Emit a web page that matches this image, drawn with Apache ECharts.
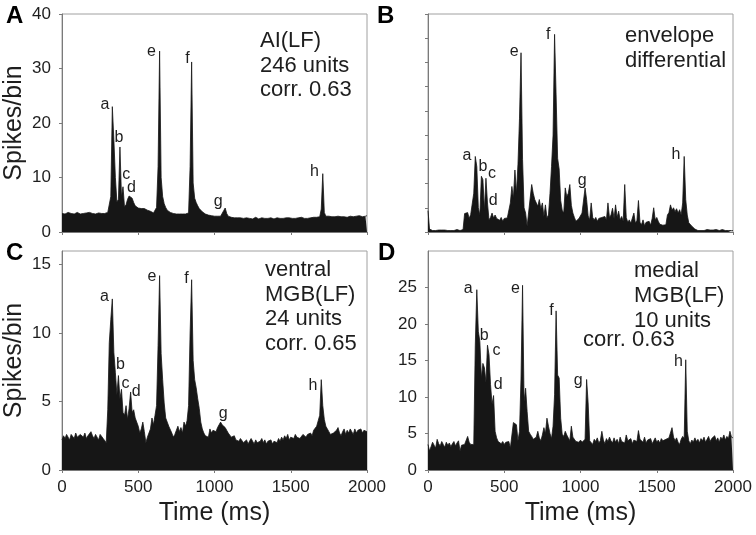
<!DOCTYPE html>
<html><head><meta charset="utf-8">
<script src="https://cdn.jsdelivr.net/npm/echarts@6/dist/echarts.min.js"></script>
<style>html,body{margin:0;padding:0;background:#fff}#c{width:756px;height:535px}</style>
</head><body><div id="c"></div><script>
// ---- data (10 ms bins, 0..2000 ms) ----
const binMs = 10;
const xTicks = [0, 500, 1000, 1500, 2000];
const yTicksA = [0, 10, 20, 30, 40];
const yTicksB = [0, 5, 10, 15, 20, 25, 30, 35, 40, 45];
const yTicksC = [0, 5, 10, 15];
const yTicksD = [0, 5, 10, 15, 20, 25];
const peakNames = ['a','b','c','d','e','f','g','h'];

const valuesA = [
 3.4,3.5,3.3,3.4,3.6,3.3,3.4,3.5,3.3,3.4,3.6,3.4,3.3,3.5,3.4,3.3,3.5,3.4,3.6,3.3,
 3.4,3.5,3.3,3.4,3.5,3.3,3.4,3.6,3.4,3.5,3.6,3.5,6.5,23.0,17.0,10.0,5.5,6.0,15.6,6.5,
 8.3,4.6,5.0,6.0,6.6,6.8,6.2,5.4,4.8,4.6,4.4,4.4,4.3,4.5,4.3,4.1,4.0,3.9,3.8,3.6,
 3.5,3.6,4.5,12.0,33.2,10.0,6.5,5.2,4.5,4.0,3.7,3.6,3.5,3.4,3.5,3.3,3.4,3.3,3.5,3.3,
 3.4,3.3,3.4,3.5,12.0,31.2,9.0,6.2,5.4,4.8,4.3,4.0,3.7,3.5,3.3,3.2,3.1,3.0,3.0,2.9,
 2.9,2.8,2.9,2.8,2.9,3.2,3.9,4.4,3.4,2.9,2.8,2.7,2.8,2.6,2.7,2.6,2.5,2.6,2.7,2.5,
 2.5,2.6,2.4,2.5,2.6,2.4,2.5,2.7,2.5,2.4,2.5,2.6,2.4,2.5,2.6,2.5,2.4,2.6,2.5,2.4,
 2.5,2.6,2.4,2.5,2.7,2.5,2.4,2.6,2.5,2.6,2.4,2.5,2.6,2.5,2.4,2.6,2.5,2.7,2.6,2.5,
 2.6,2.5,2.7,2.6,2.5,2.7,2.6,2.7,2.6,2.8,4.2,10.7,3.6,2.9,2.8,2.9,3.0,2.8,2.9,2.8,
 2.8,2.9,2.7,2.8,3.0,2.8,2.9,2.7,2.8,2.9,3.0,2.8,2.7,2.9,2.8,3.0,2.9,2.8,3.0,2.9,
 3.0];
const valuesB = [
 4.4,0.6,0.4,0.3,0.4,0.3,0.5,0.4,0.3,0.4,0.3,0.4,0.5,0.3,0.4,0.3,0.4,0.3,0.4,0.5,
 0.4,0.3,0.4,0.5,3.8,3.5,4.0,2.8,3.6,3.2,8.0,15.6,13.5,5.0,3.5,11.5,10.8,4.5,11.1,6.0,
 2.5,3.0,3.9,2.9,3.5,2.8,3.2,2.4,3.0,2.2,2.8,2.4,2.9,2.5,6.0,9.4,7.0,12.8,8.0,14.0,
 23.5,37.0,15.0,5.0,3.9,1.2,1.5,7.0,9.8,8.0,6.7,6.5,5.3,6.7,4.8,6.0,3.2,5.6,2.9,3.5,
 8.0,13.5,20.0,40.8,28.3,15.2,13.0,6.5,4.5,3.9,9.1,7.3,8.0,9.8,5.5,3.9,3.0,2.2,2.5,2.8,
 2.8,3.9,3.5,9.1,6.7,3.3,2.5,6.0,3.0,2.5,3.0,2.2,2.8,2.4,3.0,2.6,3.2,2.5,6.0,3.0,
 3.5,4.9,2.8,5.6,3.0,4.3,2.5,3.2,2.2,9.8,3.0,2.0,2.5,1.8,2.2,3.9,1.8,2.4,6.5,2.0,
 1.5,2.5,1.3,2.0,1.6,2.2,1.4,2.8,5.0,2.5,3.0,2.2,1.6,1.2,1.4,1.1,1.5,3.5,4.0,5.6,
 4.5,5.0,4.2,4.8,3.9,4.6,3.5,6.0,15.6,6.7,3.5,1.9,1.5,1.2,0.8,0.6,0.4,0.3,0.4,0.3,
 0.4,0.3,0.4,0.5,0.3,0.4,0.5,0.4,0.3,0.5,0.4,0.3,0.4,0.5,0.4,0.3,0.4,0.3,0.4,0.3,
 0.3];
const valuesC = [
 2.2,2.5,2.3,2.6,2.4,2.2,2.6,2.5,2.3,2.7,2.4,2.3,2.6,2.5,2.4,2.7,2.3,2.5,2.4,2.8,
 2.5,2.3,2.6,2.4,2.2,2.6,2.5,2.3,2.4,2.0,4.4,9.3,11.0,12.5,8.6,7.1,5.5,6.9,5.2,5.9,
 4.2,4.0,4.7,3.7,4.5,5.7,4.2,4.4,3.8,3.7,3.2,2.7,3.0,3.5,2.8,2.0,2.4,2.7,3.0,3.8,
 3.3,4.0,4.7,9.1,14.2,8.5,6.6,4.9,3.8,3.5,3.2,3.1,2.7,2.4,2.6,2.9,3.2,2.8,3.1,2.7,
 3.5,3.2,3.6,4.7,10.0,13.9,8.0,6.6,6.0,5.2,4.5,3.5,3.0,2.7,2.5,2.6,2.4,3.0,2.7,2.9,
 3.0,2.8,3.1,3.3,3.5,3.3,3.4,3.1,2.9,2.7,2.6,2.4,2.3,2.5,2.2,2.3,2.1,2.3,2.2,2.0,
 2.1,2.2,1.9,2.0,2.3,2.1,1.9,2.2,2.0,1.9,2.1,2.3,2.0,2.2,1.9,2.1,2.0,2.2,1.9,2.1,
 2.2,2.0,2.3,2.1,2.4,2.2,2.5,2.3,2.6,2.2,2.4,2.5,2.3,2.6,2.4,2.5,2.3,2.4,2.6,2.5,
 2.4,2.6,2.5,2.7,2.5,2.9,3.0,3.2,3.6,4.0,6.6,4.7,3.7,3.2,3.0,2.8,2.6,2.5,2.7,2.6,
 2.9,3.1,2.7,2.5,2.8,3.0,2.6,2.9,2.7,3.0,2.8,2.6,3.0,2.7,2.9,2.8,3.0,2.7,2.9,3.0,
 2.8];
const valuesD = [
 3.5,2.6,3.2,3.8,3.4,3.0,4.2,3.6,3.3,3.9,3.5,3.1,3.8,3.4,3.7,3.2,3.6,3.9,3.3,3.7,
 4.0,2.6,3.4,3.2,3.5,3.3,4.6,3.8,3.5,3.3,3.5,17.0,24.7,19.0,17.6,12.6,14.6,14.0,12.0,17.1,
 15.8,11.7,9.0,10.2,5.3,4.4,3.9,3.7,3.6,3.9,3.5,3.8,3.6,3.9,3.0,3.2,6.5,6.4,6.2,4.0,
 5.3,12.6,25.3,9.4,11.2,8.0,5.3,4.9,4.6,4.2,4.0,4.5,5.3,4.4,4.0,4.8,5.8,5.0,7.1,6.0,
 5.0,4.3,6.0,10.3,21.8,13.0,12.6,7.1,4.9,4.6,5.3,4.8,4.4,4.0,6.0,4.5,4.2,3.9,4.0,3.8,
 4.1,3.8,4.0,4.2,12.4,9.2,4.0,3.8,3.5,4.2,3.9,4.4,3.7,4.0,5.3,4.1,3.6,4.3,3.9,4.5,
 4.0,3.7,4.4,3.8,4.2,3.6,4.5,3.9,4.1,3.7,4.8,4.0,3.8,4.3,3.6,4.1,4.0,3.9,5.4,4.2,
 4.0,3.8,4.5,3.7,4.1,3.9,4.3,3.6,4.0,4.4,3.8,4.1,3.7,4.3,4.0,3.9,4.2,4.0,4.4,4.2,
 5.8,4.5,4.0,4.4,3.8,3.5,4.2,4.6,4.3,15.1,5.3,4.0,3.6,4.1,3.8,4.4,3.9,4.2,3.7,4.3,
 4.0,4.5,3.8,4.2,4.6,3.9,4.3,4.1,4.7,4.0,4.4,3.8,4.5,4.2,4.8,4.1,4.6,4.3,5.3,4.5,
 4.4];

// peak-letter anchors [time ms, value]
const anchorsA = [[281,23.3],[373,17.4],[421,10.5],[455,8.1],[586,33.1],[822,31.9],[1024,5.6],[1656,11.1]];
const anchorsB = [[256,15.8],[361,13.5],[420,12.1],[427,6.4],[565,37.2],[788,40.8],[1011,10.7],[1626,15.9]];
const anchorsC = [[278,12.65],[384,7.7],[416,6.3],[487,5.7],[590,14.1],[816,14.0],[1057,4.1],[1645,6.2]];
const anchorsD = [[263,24.9],[368,18.4],[449,16.4],[460,11.7],[574,24.9],[810,21.9],[985,12.2],[1642,14.8]];

// ---- chart ----
const FONT = '"Liberation Sans", Arial, sans-serif';
const TXT = '#1e1e1e';
const panels = [
  {vals: valuesA, anchors: anchorsA, yMax: 40, yTicks: yTicksA, yLabels: true, xLabels: false, yName: 'Spikes/bin'},
  {vals: valuesB, anchors: anchorsB, yMax: 45, yTicks: yTicksB, yLabels: false, xLabels: false, yName: ''},
  {vals: valuesC, anchors: anchorsC, yMax: 16, yTicks: yTicksC, yLabels: true, xLabels: true, yName: 'Spikes/bin'},
  {vals: valuesD, anchors: anchorsD, yMax: 30, yTicks: yTicksD, yLabels: true, xLabels: true, yName: ''}
];
const gridBoxes = [
  {left: 62, top: 14, width: 305, height: 218},
  {left: 428, top: 14, width: 305, height: 218},
  {left: 62, top: 251, width: 305, height: 219},
  {left: 428, top: 251, width: 305, height: 219}
];
const axisCol = '#7a7a7a';
const plain = v => String(v);

const option = {
  animation: false,
  backgroundColor: '#fff',
  grid: gridBoxes.map(g => Object.assign({show: true, borderColor: '#a0a0a0', borderWidth: 1, backgroundColor: 'transparent'}, g)),
  xAxis: panels.map((p, i) => ({
    type: 'value', gridIndex: i, min: 0, max: 2000,
    axisLine: {show: true, onZero: false, lineStyle: {color: axisCol, width: 1}},
    axisTick: {show: true, length: 3, customValues: xTicks, lineStyle: {color: axisCol}},
    axisLabel: {show: p.xLabels, customValues: xTicks, formatter: plain, fontSize: 17, color: TXT, fontFamily: FONT, margin: 9},
    splitLine: {show: false},
    name: p.xLabels ? 'Time (ms)' : '', nameLocation: 'middle', nameGap: 31,
    nameTextStyle: {fontSize: 25, color: TXT, fontFamily: FONT}
  })),
  yAxis: panels.map((p, i) => ({
    type: 'value', gridIndex: i, min: 0, max: p.yMax,
    axisLine: {show: true, lineStyle: {color: axisCol, width: 1}},
    axisTick: {show: true, length: 3, customValues: p.yTicks, lineStyle: {color: axisCol}},
    axisLabel: {show: p.yLabels, customValues: p.yTicks, formatter: plain, fontSize: 17, color: TXT, fontFamily: FONT, margin: 11},
    splitLine: {show: false},
    name: p.yName, nameLocation: 'middle', nameGap: 35,
    nameTextStyle: {fontSize: 25, color: TXT, fontFamily: FONT}
  })),
  series: panels.map((p, i) => ({
    type: 'line', xAxisIndex: i, yAxisIndex: i, silent: true,
    data: p.vals.map((v, k) => [k * binMs, v]),
    symbol: 'none', showSymbol: false,
    lineStyle: {color: '#161616', width: 0.8},
    areaStyle: {color: '#161616', opacity: 1},
    markPoint: {
      silent: true, symbol: 'circle', symbolSize: 1,
      itemStyle: {color: 'rgba(0,0,0,0)'},
      label: {show: true, position: 'inside', formatter: '{b}', fontSize: 16, color: TXT, fontFamily: FONT},
      data: p.anchors.map((a, k) => ({name: peakNames[k], coord: a}))
    }
  })),
  graphic: [
    {type: 'text', left: 6, top: 4, style: {text: 'A', font: 'bold 24px ' + FONT, fill: '#000'}},
    {type: 'text', left: 377, top: 4, style: {text: 'B', font: 'bold 24px ' + FONT, fill: '#000'}},
    {type: 'text', left: 6, top: 241, style: {text: 'C', font: 'bold 24px ' + FONT, fill: '#000'}},
    {type: 'text', left: 378, top: 241, style: {text: 'D', font: 'bold 24px ' + FONT, fill: '#000'}},
    {type: 'text', left: 260, top: 29, style: {text: 'AI(LF)\n246 units\ncorr. 0.63', font: '22px ' + FONT, lineHeight: 24.5, fill: TXT}},
    {type: 'text', left: 625, top: 23, style: {text: 'envelope\ndifferential', font: '22px ' + FONT, lineHeight: 25.5, fill: TXT}},
    {type: 'text', left: 265, top: 258, style: {text: 'ventral\nMGB(LF)\n24 units\ncorr. 0.65', font: '22px ' + FONT, lineHeight: 24.5, fill: TXT}},
    {type: 'text', left: 634, top: 258, style: {text: 'medial\nMGB(LF)\n10 units', font: '22px ' + FONT, lineHeight: 25, fill: TXT}},
    {type: 'text', left: 583, top: 328, style: {text: 'corr. 0.63', font: '22px ' + FONT, lineHeight: 24, fill: TXT}}
  ]
};
const chart = echarts.init(document.getElementById('c'), null, {renderer: 'canvas'});
chart.setOption(option);
</script></body></html>
